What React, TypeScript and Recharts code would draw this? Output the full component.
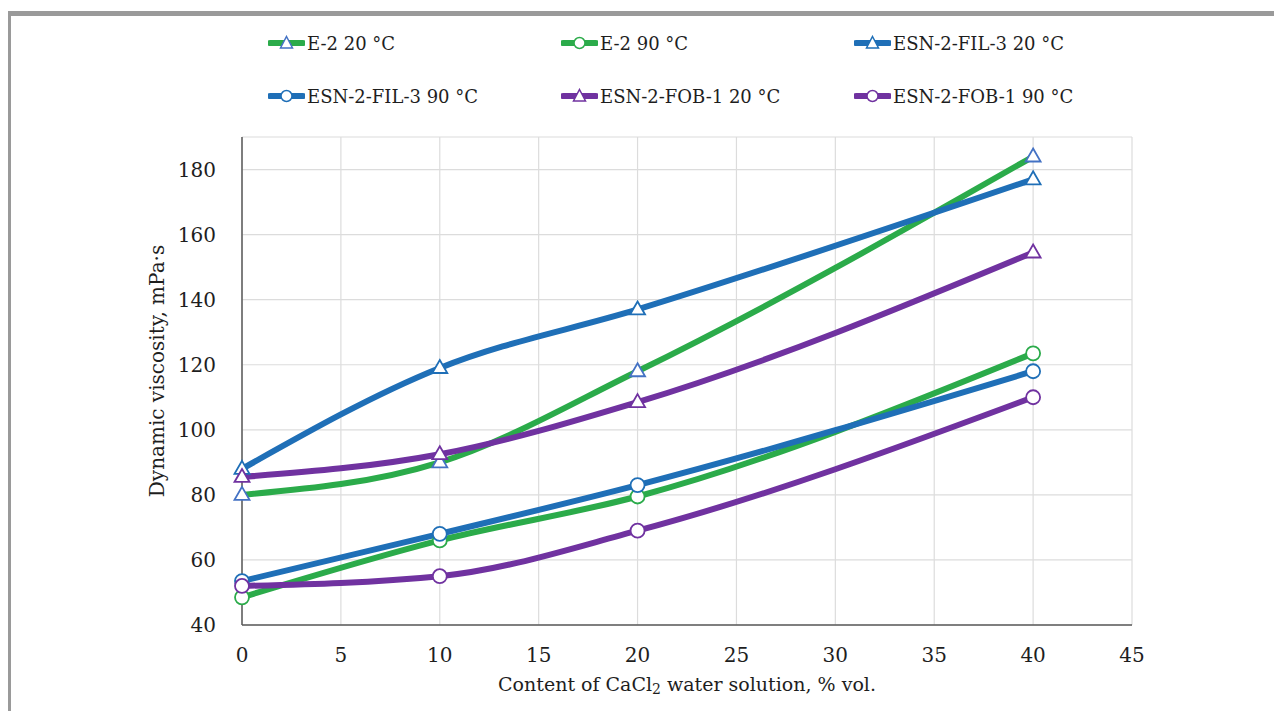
import { LineChart, Line, XAxis, YAxis, CartesianGrid } from 'recharts';

const xValues = [0, 10, 20, 40];
const e2At20 = [80, 90, 118, 184];
const e2At90 = [48.5, 66, 79.5, 123.5];
const fil3At20 = [88, 119, 137, 177];
const fil3At90 = [53.5, 68, 83, 118];
const fob1At20 = [85.5, 92.5, 108.5, 154.5];
const fob1At90 = [52, 55, 69, 110];

const xTicks = [0, 5, 10, 15, 20, 25, 30, 35, 40, 45];
const yTicks = [40, 60, 80, 100, 120, 140, 160, 180];

const GREEN = '#2bab4a';
const BLUE = '#1f6fb7';
const PURPLE = '#7032a0';
const MARK_BLUE = '#4472c4';

const series = [
  { key: 'e2_20', name: 'E-2 20 °C', color: GREEN, marker: 'triangle', markColor: MARK_BLUE, values: e2At20 },
  { key: 'e2_90', name: 'E-2 90 °C', color: GREEN, marker: 'circle', markColor: GREEN, values: e2At90 },
  { key: 'fil3_20', name: 'ESN-2-FIL-3 20 °C', color: BLUE, marker: 'triangle', markColor: BLUE, values: fil3At20 },
  { key: 'fil3_90', name: 'ESN-2-FIL-3 90 °C', color: BLUE, marker: 'circle', markColor: BLUE, values: fil3At90 },
  { key: 'fob1_20', name: 'ESN-2-FOB-1 20 °C', color: PURPLE, marker: 'triangle', markColor: PURPLE, values: fob1At20 },
  { key: 'fob1_90', name: 'ESN-2-FOB-1 90 °C', color: PURPLE, marker: 'circle', markColor: PURPLE, values: fob1At90 },
];

const data = xValues.map((x, i) => {
  const row: Record<string, number> = { x };
  series.forEach((s) => { row[s.key] = s.values[i]; });
  return row;
});

const FONT = '"DejaVu Serif", serif';
const TEXT = '#1e1e1e';

function makeDot(marker: string, color: string) {
  return (props: any) => {
    const { cx, cy, index } = props;
    if (cx == null || cy == null) return <g key={index} />;
    if (marker === 'triangle') {
      return (
        <path
          key={index}
          d={`M${cx},${cy - 8} L${cx + 7.5},${cy + 5} L${cx - 7.5},${cy + 5} Z`}
          fill="#fff"
          stroke={color}
          strokeWidth={1.8}
        />
      );
    }
    return <circle key={index} cx={cx} cy={cy} r={7} fill="#fff" stroke={color} strokeWidth={1.8} />;
  };
}

const LegendIcon = ({ color, marker, markColor }: { color: string; marker: string; markColor: string }) => (
  <svg width={37} height={16} style={{ display: 'block' }}>
    <line x1={2} y1={8} x2={35} y2={8} stroke={color} strokeWidth={6} strokeLinecap="round" />
    {marker === 'triangle' ? (
      <path d="M18.5,1.5 L24.5,13 L12.5,13 Z" fill="#fff" stroke={markColor} strokeWidth={1.5} />
    ) : (
      <circle cx={18.5} cy={8} r={5.5} fill="#fff" stroke={markColor} strokeWidth={1.5} />
    )}
  </svg>
);

const legendCols = [260, 553, 846];
const legendRows = [35, 88];

const xTitle = (props: any) => {
  const vb = props.viewBox;
  const cx = vb.x + vb.width / 2;
  const cy = 676;
  return (
    <text x={cx} y={cy} textAnchor="middle" dominantBaseline="central" fill={TEXT} fontSize={19} fontFamily={FONT}>
      <tspan>Content of CaCl</tspan>
      <tspan dy={5} fontSize={14}>2</tspan>
      <tspan dy={-5}> water solution, % vol.</tspan>
    </text>
  );
};

const yTitle = (props: any) => {
  const vb = props.viewBox;
  const cx = 149;
  const cy = vb.y + vb.height / 2 - 10;
  return (
    <text
      x={cx}
      y={cy}
      transform={`rotate(-90, ${cx}, ${cy})`}
      textAnchor="middle"
      dominantBaseline="central"
      fill={TEXT}
      fontSize={20}
      fontFamily={FONT}
    >
      Dynamic viscosity, mPa·s
    </text>
  );
};

const App = () => {
  return (
    <div style={{ position: 'relative', width: 1266, height: 703, fontFamily: FONT }}>
      <div
        style={{
          position: 'absolute', left: -2, top: 3, right: -8, bottom: 0,
          borderLeft: '5px solid #9a9a9a', borderTop: '5px solid #9a9a9a',
        }}
      />
      {series.map((s, i) => (
        <div
          key={s.key}
          style={{
            position: 'absolute',
            left: legendCols[i % 3],
            top: legendRows[Math.floor(i / 3)] - 11,
            height: 22,
            display: 'flex',
            alignItems: 'center',
            fontSize: 18,
            color: TEXT,
            whiteSpace: 'nowrap',
          }}
        >
          <LegendIcon color={s.color} marker={s.marker} markColor={s.markColor} />
          <span style={{ marginLeft: 2 }}>{s.name}</span>
        </div>
      ))}
      <LineChart
        width={1266}
        height={703}
        data={data}
        margin={{ top: 129, right: 142, left: 134, bottom: 11 }}
        style={{ position: 'absolute', left: 0, top: 0 }}
      >
        <CartesianGrid stroke="#dcdcdc" strokeWidth={1.2} />
        <XAxis
          dataKey="x"
          type="number"
          domain={[0, 45]}
          ticks={xTicks}
          height={75}
          tickLine={false}
          tickMargin={17}
          axisLine={{ stroke: '#5a5a5a', strokeWidth: 1.5 }}
          tick={{ fill: TEXT, fontSize: 20, fontFamily: FONT }}
          label={xTitle}
        />
        <YAxis
          type="number"
          domain={[40, 190]}
          ticks={yTicks}
          width={100}
          tickLine={false}
          tickMargin={20}
          axisLine={{ stroke: '#5a5a5a', strokeWidth: 1.5 }}
          tick={{ fill: TEXT, fontSize: 20, fontFamily: FONT }}
          label={yTitle}
        />
        {series.map((s) => (
          <Line
            key={s.key}
            dataKey={s.key}
            name={s.name}
            type="monotone"
            stroke={s.color}
            strokeWidth={6}
            dot={makeDot(s.marker, s.markColor)}
            activeDot={false}
            isAnimationActive={false}
          />
        ))}
      </LineChart>
    </div>
  );
};

export default App;
